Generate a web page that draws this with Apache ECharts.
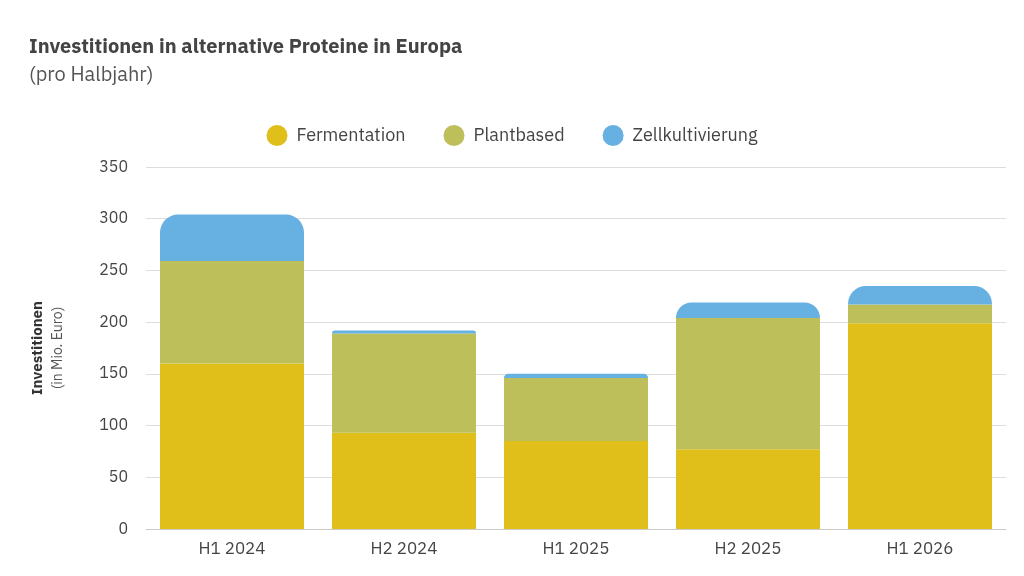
<!DOCTYPE html>
<html><head><meta charset="utf-8">
<script src="https://cdn.jsdelivr.net/npm/echarts@6/dist/echarts.min.js"></script>
<style>body{margin:0}#c{width:1024px;height:576px}</style></head>
<body><div id="c"></div>
<script>
var categories = ['H1 2024', 'H2 2024', 'H1 2025', 'H2 2025', 'H1 2026'];
var fermentation = [160, 93, 85, 77, 199];
var plantbased = [99, 96, 61, 127, 18];
var zellkultivierung = [45, 3, 4, 15, 18];

var myChart = echarts.init(document.getElementById('c'));
var font = 'IBM Plex Sans, Roboto, sans-serif';
var option = {
  textStyle: { fontFamily: font },
  title: {
    text: 'Investitionen in alternative Proteine in Europa',
    subtext: '(pro Halbjahr)',
    left: 24, top: 32,
    textStyle: { fontSize: 20, fontWeight: 'bold', color: '#444' },
    subtextStyle: { fontSize: 20, color: '#555' },
    itemGap: 8
  },
  legend: {
    top: 120, left: 'center', itemGap: 38,
    icon: 'circle', itemWidth: 21, itemHeight: 21,
    textStyle: { fontSize: 18, color: '#444', padding: [0, 0, 0, 4] }
  },
  grid: { left: 146, right: 18, top: 167, bottom: 47 },
  xAxis: {
    type: 'category', data: categories,
    axisTick: { show: false },
    axisLine: { lineStyle: { color: '#ccc' } },
    axisLabel: { fontSize: 17, color: '#444', margin: 12 }
  },
  yAxis: {
    type: 'value', min: 0, max: 350, interval: 50,
    name: '{b|Investitionen}\n{n|(in Mio. Euro)}',
    nameLocation: 'middle', nameGap: 78, nameRotate: 90,
    nameTextStyle: { rich: {
      b: { fontSize: 15, fontWeight: 'bold', color: '#333', lineHeight: 20 },
      n: { fontSize: 14, color: '#555', lineHeight: 20 } } },
    axisLabel: { fontSize: 16, color: '#444', margin: 18 },
    splitLine: { lineStyle: { color: '#ddd' } }
  },
  series: [
    { name: 'Fermentation', type: 'bar', stack: 't', data: fermentation, barWidth: 144,
      itemStyle: { color: '#e0bf1a' } },
    { name: 'Plantbased', type: 'bar', stack: 't', data: plantbased,
      itemStyle: { color: '#bcbf5a' } },
    { name: 'Zellkultivierung', type: 'bar', stack: 't', data: zellkultivierung,
      itemStyle: { color: '#66b0e2', borderRadius: [18, 18, 0, 0] } }
  ]
};
myChart.setOption(option);
</script></body></html>
